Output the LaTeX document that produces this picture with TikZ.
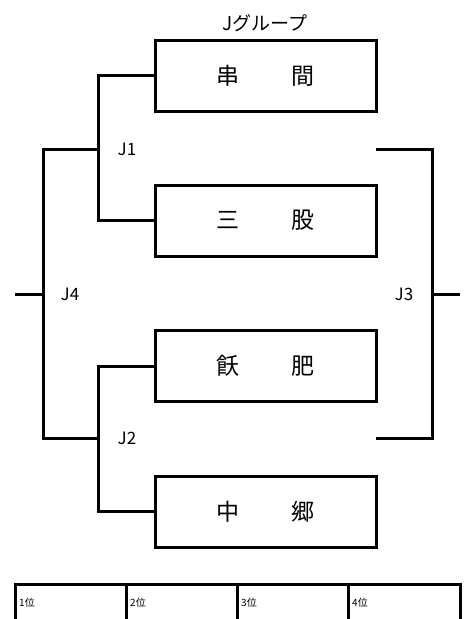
\documentclass[tikz,border=0pt]{standalone}
\usepackage{fontspec}
\setmainfont{Noto Sans CJK JP}
\begin{document}
\begin{tikzpicture}[x=1pt,y=-1pt,
  ln/.style={line width=3pt},
  team/.style={draw,line width=3pt,minimum width=221pt,minimum height=71pt,inner sep=0pt,font=\fontsize{23}{23}\selectfont},
  jlab/.style={font=\fontsize{17}{17}\selectfont,inner sep=0pt},
  rank/.style={font=\fontsize{10}{10}\selectfont,inner sep=0pt,anchor=west}]
\useasboundingbox (0,0) rectangle (470,619);
\node[font=\fontsize{19}{19}\selectfont,inner sep=0pt] (title) at (265,23) {Jグループ};
\node[team] (b1) at (265.5,75.5) {串\hspace{52pt}間};
\node[team] (b2) at (265.5,220.5) {三\hspace{52pt}股};
\node[team] (b3) at (265.5,366) {飫\hspace{52pt}肥};
\node[team] (b4) at (265.5,511.5) {中\hspace{52pt}郷};
\coordinate (j1) at (98,149);
\coordinate (j2) at (98,438);
\coordinate (j4t) at (43,149);
\coordinate (j4b) at (43,438);
\coordinate (j4) at (43,294);
\coordinate (w) at (15,294);
\coordinate (r1) at (376,149);
\coordinate (r2) at (376,438);
\coordinate (j3) at (432,294);
\coordinate (e) at (460,294);
\draw[ln] (b1.west) -| (j1) |- (b2.west);
\draw[ln] (b3.west) -| (j2) |- (b4.west);
\draw[ln,line join=miter] (j1) -- (j4t) -- (j4b) -- (j2);
\draw[ln] (w) -- (j4);
\draw[ln] (r1) -| (j3) |- (r2);
\draw[ln] (j3) -- (e);
\node[jlab] (l1) at (127,149) {J1};
\node[jlab] (l2) at (127,438) {J2};
\node[jlab] (l4) at (70,294) {J4};
\node[jlab] (l3) at (404,294) {J3};
% ranking table
\coordinate (t0) at (15,584.5);
\coordinate (t4) at (460,584.5);
\draw[ln] (15,625) |- (t4) -- (460,625);
\foreach \x in {126,237,348} \draw[ln] (\x,584.5) -- (\x,625);
\node[rank] (p1) at (19,603) {1位};
\node[rank] (p2) at (130,603) {2位};
\node[rank] (p3) at (241,603) {3位};
\node[rank] (p4) at (352,603) {4位};
\end{tikzpicture}
\end{document}
